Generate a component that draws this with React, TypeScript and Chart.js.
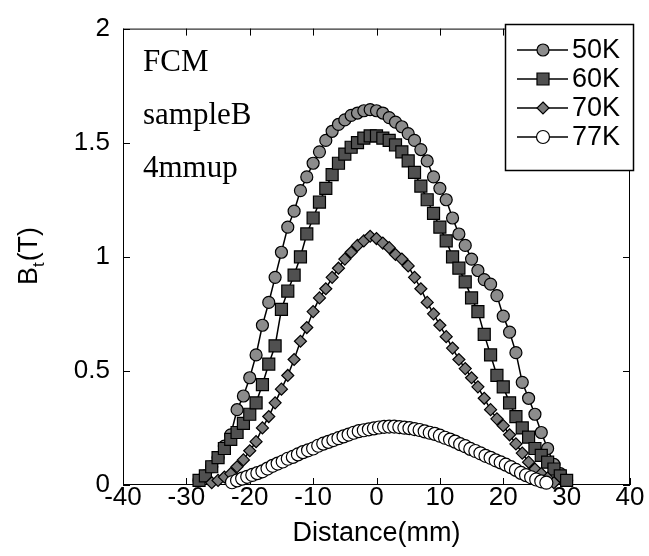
import React, { useEffect, useRef } from 'react';
import { Chart, registerables } from 'chart.js';

Chart.register(...registerables);

// ---- data ----
const X_50K = [-28,-27,-26,-25,-24,-23,-22,-21,-20,-19,-18,-17,-16,-15,-14,-13,-12,-11,-10,-9,-8,-7,-6,-5,-4,-3,-2,-1,0,1,2,3,4,5,6,7,8,9,10,11,12,13,14,15,16,17,18,19,20,21,22,23,24,25,26,27,28,29,30];
const B_50K = [0.02,0.04,0.08,0.12,0.17,0.22,0.33,0.39,0.47,0.57,0.70,0.80,0.91,1.02,1.13,1.20,1.29,1.35,1.41,1.46,1.51,1.55,1.58,1.60,1.62,1.63,1.64,1.645,1.64,1.63,1.61,1.59,1.57,1.54,1.51,1.47,1.42,1.35,1.30,1.25,1.17,1.10,1.05,0.99,0.94,0.90,0.88,0.83,0.74,0.67,0.58,0.45,0.38,0.31,0.23,0.16,0.09,0.05,0.02];

const X_60K = [-28,-27,-26,-25,-24,-23,-22,-21,-20,-19,-18,-17,-16,-15,-14,-13,-12,-11,-10,-9,-8,-7,-6,-5,-4,-3,-2,-1,0,1,2,3,4,5,6,7,8,9,10,11,12,13,14,15,16,17,18,19,20,21,22,23,24,25,26,27,28,29,30];
const B_60K = [0.02,0.04,0.08,0.12,0.16,0.20,0.23,0.27,0.31,0.36,0.44,0.53,0.61,0.77,0.85,0.92,1.00,1.10,1.17,1.24,1.30,1.36,1.41,1.45,1.48,1.50,1.52,1.53,1.53,1.52,1.51,1.49,1.46,1.42,1.37,1.31,1.25,1.19,1.13,1.07,1.00,0.95,0.89,0.82,0.76,0.66,0.57,0.48,0.43,0.36,0.30,0.25,0.21,0.16,0.13,0.10,0.07,0.04,0.02];

const X_70K = [-26,-25,-24,-23,-22,-21,-20,-19,-18,-17,-16,-15,-14,-13,-12,-11,-10,-9,-8,-7,-6,-5,-4,-3,-2,-1,0,1,2,3,4,5,6,7,8,9,10,11,12,13,14,15,16,17,18,19,20,21,22,23,24,25,26,27,28];
const B_70K = [0.01,0.02,0.035,0.05,0.08,0.11,0.15,0.19,0.25,0.30,0.36,0.42,0.48,0.55,0.63,0.69,0.76,0.82,0.86,0.91,0.95,0.99,1.02,1.05,1.07,1.09,1.08,1.06,1.04,1.01,0.99,0.96,0.91,0.86,0.80,0.75,0.70,0.65,0.60,0.55,0.51,0.47,0.43,0.38,0.33,0.29,0.26,0.22,0.18,0.14,0.10,0.07,0.05,0.03,0.01];

const X_77K = [-22.8,-22.0,-21.2,-20.4,-19.6,-18.8,-18.0,-17.2,-16.4,-15.6,-14.8,-14.0,-13.2,-12.4,-11.6,-10.8,-10.0,-9.2,-8.4,-7.6,-6.8,-6.0,-5.2,-4.4,-3.6,-2.8,-2.0,-1.2,-0.4,0.4,1.2,2.0,2.8,3.6,4.4,5.2,6.0,6.8,7.6,8.4,9.2,10.0,10.8,11.6,12.4,13.2,14.0,14.8,15.6,16.4,17.2,18.0,18.8,19.6,20.4,21.2,22.0,22.8,23.6,24.4,25.2,26.0,26.8];
const B_77K = [0.012,0.02,0.028,0.036,0.044,0.052,0.06,0.072,0.084,0.094,0.103,0.115,0.123,0.134,0.144,0.152,0.16,0.172,0.181,0.189,0.197,0.205,0.213,0.221,0.229,0.236,0.24,0.244,0.248,0.252,0.255,0.256,0.256,0.254,0.251,0.249,0.245,0.241,0.235,0.229,0.224,0.216,0.207,0.199,0.19,0.179,0.17,0.158,0.149,0.139,0.128,0.119,0.108,0.099,0.089,0.078,0.066,0.053,0.043,0.034,0.024,0.016,0.01];

const SERIES_LABELS = ['50K', '60K', '70K', '77K'];
const X_TICKS = [-40, -30, -20, -10, 0, 10, 20, 30, 40];
const Y_TICKS = [0, 0.5, 1, 1.5, 2];
const NOTES = ['FCM', 'sampleB', '4mmup'];
const X_TITLE = 'Distance(mm)';

const SANS = '"Liberation Sans", Arial, Helvetica, sans-serif';
const SERIF = '"Liberation Serif", "Times New Roman", serif';

function pts(xs: number[], ys: number[]) {
  return xs.map((x, i) => ({ x, y: ys[i] }));
}

const STYLES = [
  { pointStyle: 'circle', radius: 6, bg: '#8c8c8c', order: 3 },
  { pointStyle: 'rect', radius: 8.5, bg: '#505050', order: 2 },
  { pointStyle: 'rectRot', radius: 6, bg: '#7a7a7a', order: 1 },
  { pointStyle: 'circle', radius: 6.5, bg: '#ffffff', order: 0 },
];

function drawMarker(ctx: CanvasRenderingContext2D, style: string, r: number, x: number, y: number) {
  ctx.beginPath();
  if (style === 'circle') {
    ctx.arc(x, y, r, 0, Math.PI * 2);
  } else if (style === 'rect') {
    const s = Math.SQRT1_2 * r;
    ctx.rect(x - s, y - s, 2 * s, 2 * s);
  } else {
    ctx.moveTo(x, y - r);
    ctx.lineTo(x + r, y);
    ctx.lineTo(x, y + r);
    ctx.lineTo(x - r, y);
    ctx.closePath();
  }
  ctx.fill();
  ctx.stroke();
}

const decorPlugin = {
  id: 'decor',
  beforeDatasetsDraw(chart: any) {
    const { ctx, chartArea: a, scales } = chart;
    ctx.save();
    ctx.strokeStyle = '#000';
    ctx.lineWidth = 1;
    ctx.strokeRect(a.left + 0.5, a.top + 0.5, a.right - a.left - 1, a.bottom - a.top - 1);
    const tl = 7;
    ctx.beginPath();
    X_TICKS.forEach((v) => {
      const px = Math.round(scales.x.getPixelForValue(v)) + 0.5;
      ctx.moveTo(px, a.bottom);
      ctx.lineTo(px, a.bottom - tl);
      ctx.moveTo(px, a.top);
      ctx.lineTo(px, a.top + tl);
    });
    Y_TICKS.forEach((v) => {
      const py = Math.round(scales.y.getPixelForValue(v)) + 0.5;
      ctx.moveTo(a.left, py);
      ctx.lineTo(a.left + tl, py);
      ctx.moveTo(a.right, py);
      ctx.lineTo(a.right - tl, py);
    });
    ctx.stroke();
    ctx.restore();
  },
  afterDraw(chart: any) {
    const { ctx, chartArea: a } = chart;
    ctx.save();
    ctx.fillStyle = '#000';
    // annotations
    ctx.font = `31px ${SERIF}`;
    ctx.textBaseline = 'alphabetic';
    ctx.textAlign = 'left';
    const noteBase = [71, 124, 177];
    NOTES.forEach((t, i) => ctx.fillText(t, a.left + 20, noteBase[i]));

    // x title
    ctx.font = `27px ${SANS}`;
    ctx.textAlign = 'center';
    ctx.textBaseline = 'middle';
    ctx.fillText(X_TITLE, (a.left + a.right) / 2, 534);

    // y title B_t(T)
    ctx.save();
    ctx.translate(30, 256);
    ctx.rotate(-Math.PI / 2);
    ctx.textBaseline = 'middle';
    ctx.textAlign = 'left';
    ctx.font = `27px ${SANS}`;
    const wB = ctx.measureText('B').width;
    ctx.font = `17px ${SANS}`;
    const wt = ctx.measureText('t').width;
    ctx.font = `27px ${SANS}`;
    const wP = ctx.measureText('(T)').width;
    const total = wB + wt + 1 + wP;
    let cx = -total / 2;
    ctx.fillText('B', cx, 0);
    cx += wB;
    ctx.font = `17px ${SANS}`;
    ctx.fillText('t', cx, 9);
    cx += wt + 1;
    ctx.font = `27px ${SANS}`;
    ctx.fillText('(T)', cx, 0);
    ctx.restore();

    // legend
    const bx = 505, by = 24, bw = 128, bh = 146;
    ctx.fillStyle = '#fff';
    ctx.fillRect(bx, by, bw, bh);
    ctx.strokeStyle = '#000';
    ctx.lineWidth = 1.5;
    ctx.strokeRect(bx + 0.5, by + 0.5, bw, bh);
    const rows = [50, 79, 108, 137];
    SERIES_LABELS.forEach((lab, i) => {
      const y = rows[i];
      const s = STYLES[i];
      ctx.strokeStyle = '#000';
      ctx.lineWidth = 1.5;
      ctx.beginPath();
      ctx.moveTo(517, y);
      ctx.lineTo(568, y);
      ctx.stroke();
      ctx.fillStyle = s.bg;
      ctx.lineWidth = 1.2;
      drawMarker(ctx, s.pointStyle, s.radius, 543, y);
      ctx.fillStyle = '#000';
      ctx.font = `27px ${SANS}`;
      ctx.textAlign = 'left';
      ctx.textBaseline = 'middle';
      ctx.fillText(lab, 572, y + 1);
    });
    ctx.restore();
  },
};

export default function App() {
  const ref = useRef<HTMLCanvasElement>(null);
  useEffect(() => {
    if (!ref.current) return;
    const xs = [X_50K, X_60K, X_70K, X_77K];
    const ys = [B_50K, B_60K, B_70K, B_77K];
    const chart = new Chart(ref.current, {
      type: 'line',
      data: {
        datasets: SERIES_LABELS.map((lab, i) => ({
          label: lab,
          data: pts(xs[i], ys[i]),
          borderColor: '#000',
          borderWidth: 1.5,
          backgroundColor: STYLES[i].bg,
          pointStyle: STYLES[i].pointStyle as any,
          pointRadius: STYLES[i].radius,
          pointBackgroundColor: STYLES[i].bg,
          pointBorderColor: '#000',
          pointBorderWidth: 1.2,
          tension: 0,
          fill: false,
          clip: false as any,
          order: STYLES[i].order,
        })),
      },
      options: {
        animation: false,
        responsive: false,
        devicePixelRatio: 1,
        layout: { padding: { top: 23, right: 19, left: 0, bottom: 0 } },
        plugins: { legend: { display: false }, tooltip: { enabled: false } },
        scales: {
          x: {
            type: 'linear',
            min: -40,
            max: 40,
            afterBuildTicks: (axis: any) => { axis.ticks = X_TICKS.map((v) => ({ value: v })); },
            afterFit: (axis: any) => { axis.height = 71; },
            grid: { display: false, drawTicks: false },
            border: { display: false },
            ticks: {
              color: '#000',
              padding: -3,
              maxRotation: 0,
              autoSkip: false,
              font: { family: SANS, size: 26 },
              callback: (v: any) => String(v),
            },
          },
          y: {
            type: 'linear',
            min: 0,
            max: 2,
            afterBuildTicks: (axis: any) => { axis.ticks = Y_TICKS.map((v) => ({ value: v })); },
            afterFit: (axis: any) => { axis.width = 123; },
            grid: { display: false, drawTicks: false },
            border: { display: false },
            ticks: {
              color: '#000',
              padding: 13,
              autoSkip: false,
              font: { family: SANS, size: 26 },
              callback: (v: any) => String(v),
            },
          },
        },
      },
      plugins: [decorPlugin],
    });
    return () => chart.destroy();
  }, []);
  return (
    <div style={{ position: 'fixed', left: 0, top: 0, width: 649, height: 556, background: '#fff' }}>
      <canvas ref={ref} width={649} height={556} style={{ width: 649, height: 556 }} />
    </div>
  );
}
